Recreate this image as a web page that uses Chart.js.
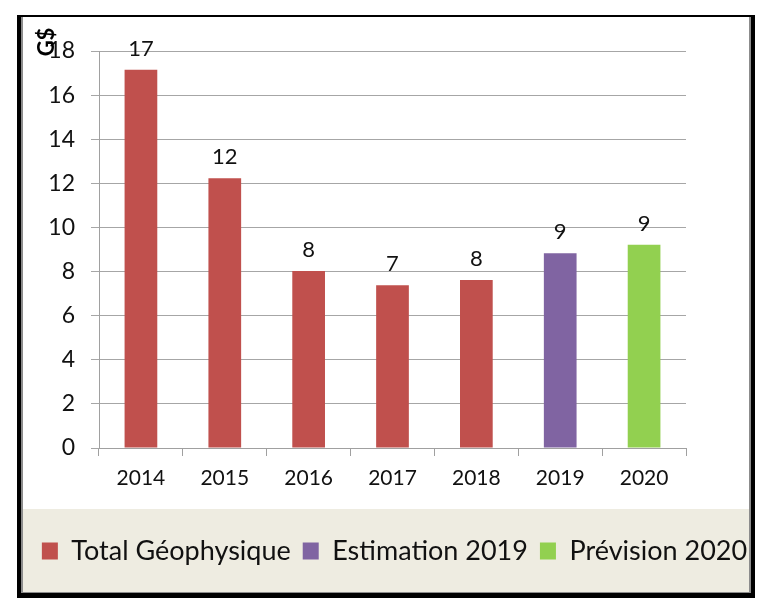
<!DOCTYPE html>
<html>
<head>
<meta charset="utf-8">
<script src="https://cdn.jsdelivr.net/npm/chart.js@4"></script>
<style>
	html, body { margin: 0; padding: 0; background: #fff; }
	#wrap { position: relative; width: 767px; height: 603px; }
</style>
</head>
<body>
<div id="wrap"><canvas id="chart" width="767" height="603"></canvas></div>
<script>
// Data (G$)
const years = ['2014', '2015', '2016', '2017', '2018', '2019', '2020'];
const totalGeo = [17.15, 12.23, 8.02, 7.38, 7.62, null, null];
const estimation2019 = [null, null, null, null, null, 8.83, null];
const prevision2020 = [null, null, null, null, null, null, 9.22];
const seriesNames = ['Total Géophysique', 'Estimation 2019', 'Prévision 2020'];
const yTicks = [0, 2, 4, 6, 8, 10, 12, 14, 16, 18];

const FONT = 'Lato';

// frame + beige legend band, drawn before the chart
const framePlugin = {
	id: 'frame',
	beforeDraw: function (chart) {
		const ctx = chart.ctx;
		ctx.save();
		ctx.fillStyle = '#000';
		ctx.fillRect(17, 15, 738, 583);
		ctx.fillStyle = '#8c8c8c';
		ctx.fillRect(21, 17, 730, 576);
		ctx.fillStyle = '#fff';
		ctx.fillRect(23, 17, 726, 575);
		ctx.fillStyle = '#eeece1';
		ctx.fillRect(23, 509, 726, 83);
		ctx.restore();
	}
};

// value labels above the bars + rotated unit label
const labelPlugin = {
	id: 'barLabels',
	afterDatasetsDraw: function (chart) {
		const ctx = chart.ctx;
		ctx.save();
		ctx.font = '22px ' + FONT;
		ctx.fillStyle = '#111';
		ctx.textAlign = 'center';
		ctx.textBaseline = 'bottom';
		chart.data.datasets.forEach(function (ds, i) {
			const meta = chart.getDatasetMeta(i);
			meta.data.forEach(function (bar, j) {
				const v = ds.data[j];
				if (v === null) return;
				ctx.fillText(Math.round(v), bar.x, bar.y - 10);
			});
		});
		// unit "G$"
		ctx.translate(47, 42);
		ctx.rotate(-Math.PI / 2);
		ctx.font = 'bold 22px ' + FONT;
		ctx.textBaseline = 'middle';
		ctx.fillStyle = '#000';
		ctx.fillText('G$', 0, 0);
		ctx.restore();
	}
};

const ctx = document.getElementById('chart').getContext('2d');

const chart = new Chart(ctx, {
	type: 'bar',
	data: {
		labels: years,
		datasets: [
			{ label: seriesNames[0], data: totalGeo, backgroundColor: '#c0504d' },
			{ label: seriesNames[1], data: estimation2019, backgroundColor: '#8064a2' },
			{ label: seriesNames[2], data: prevision2020, backgroundColor: '#92d050' }
		]
	},
	options: {
		responsive: false,
		animation: false,
		events: [],
		barPercentage: 0.39,
		categoryPercentage: 1,
		layout: { padding: { left: 22, right: 0, top: 51, bottom: 28.5 } },
		scales: {
			x: {
				stacked: true,
				grid: { drawOnChartArea: false, drawTicks: true, tickLength: 8, color: '#a0a0a0' },
				border: { color: '#a0a0a0' },
				ticks: { color: '#111', font: { family: FONT, size: 21 }, padding: 10 },
				afterFit: function (s) { s.height = 77.5; }
			},
			y: {
				stacked: true,
				min: 0,
				max: 18,
				afterBuildTicks: function (s) { s.ticks = yTicks.map(function (v) { return { value: v }; }); },
				grid: { color: '#a6a6a6', tickLength: 8 },
				border: { color: '#a0a0a0' },
				ticks: { color: '#111', font: { family: FONT, size: 23 }, padding: 16 },
				afterFit: function (s) { s.width = 77; }
			},
			y2: {
				position: 'right',
				grid: { display: false },
				border: { display: false },
				ticks: { display: false },
				afterFit: function (s) { s.width = 81; }
			}
		},
		plugins: {
			legend: {
				position: 'bottom',
				labels: {
					boxWidth: 16,
					boxHeight: 17,
					padding: 12,
					color: '#111',
					font: { family: FONT, size: 27 }
				}
			},
			tooltip: { enabled: false }
		}
	},
	plugins: [framePlugin, labelPlugin]
});
</script>
</body>
</html>
